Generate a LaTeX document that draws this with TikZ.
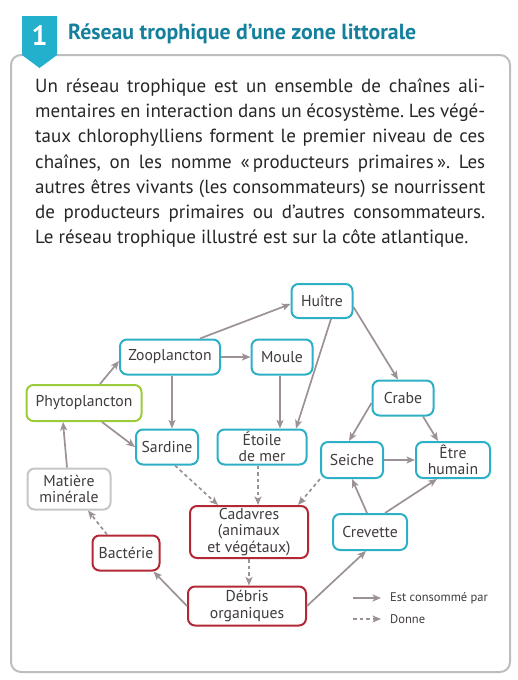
\documentclass[tikz,border=0pt]{standalone}
\usepackage{fontspec}
\setmainfont{PT Sans}
\usetikzlibrary{arrows.meta}
\definecolor{bleu}{HTML}{2DB0C6}
\definecolor{vert}{HTML}{9CCB3C}
\definecolor{grisnoeud}{HTML}{C6C6C6}
\definecolor{rouge}{HTML}{B32834}
\definecolor{fleche}{HTML}{9B9196}
\definecolor{titre}{HTML}{14809C}
\definecolor{onglet}{HTML}{23B0CC}
\definecolor{cadre}{HTML}{BDBDBD}
\definecolor{texte}{HTML}{403B3D}
\frenchspacing
\newcommand{\ligne}[1]{\makebox[450pt][s]{#1}}

\begin{document}
\begin{tikzpicture}[x=1pt, y=-1pt,
    noeud/.style={draw, rounded corners=7pt, line width=2pt, fill=white,
        text=texte, align=center, inner sep=2pt, minimum height=35pt,
        font=\fontsize{15.7}{16.5}\selectfont},
    conso/.style={noeud, draw=bleu},
    prod/.style={noeud, draw=vert},
    mineral/.style={noeud, draw=grisnoeud},
    decomp/.style={noeud, draw=rouge},
    mange/.style={draw=fleche, line width=1.7pt, -{Stealth[length=8.5pt, width=7pt, inset=2pt]}},
    donne/.style={mange, dash pattern=on 3.5pt off 3pt}]
    \useasboundingbox (0,0) rectangle (517,680);
    \draw[cadre, line width=2pt, rounded corners=10pt] (11,55) rectangle (510,672);
    \fill[onglet] (22,16) -- (57,16) -- (57,55) -- (39.5,68) -- (22,55) -- cycle;
    \node[text=white, font=\fontsize{28}{28}\bfseries\selectfont] (num) at (39.5,36) {1};
    \node[anchor=west, text=titre, font=\fontsize{21.8}{24}\bfseries\selectfont, inner sep=0pt]
        (titre) at (68,34) {Réseau trophique d’une zone littorale};
    \node[anchor=north west, align=left, inner sep=0pt, text=black!85,
        font=\fontsize{19}{25.3}\selectfont] (intro) at (35,78) {%
        \ligne{Un réseau trophique est un ensemble de chaînes ali-}\\
        \ligne{mentaires en interaction dans un écosystème. Les végé-}\\
        \ligne{taux chlorophylliens forment le premier niveau de ces}\\
        \ligne{chaînes, on les nomme «\,producteurs primaires\,». Les}\\
        \ligne{autres êtres vivants (les consommateurs) se nourrissent}\\
        \ligne{de producteurs primaires ou d’autres consommateurs.}\\
        Le réseau trophique illustré est sur la côte atlantique.};

    \node[conso, minimum width=61pt, minimum height=34pt] (huitre) at (322,301) {Huître};
    \node[conso, minimum width=100pt] (zoo) at (170,357) {Zooplancton};
    \node[conso, minimum width=61pt] (moule) at (282,357) {Moule};
    \node[prod, minimum width=115pt, minimum height=36pt] (phyto) at (84,403) {Phytoplancton};
    \node[conso, minimum width=61pt] (crabe) at (403,398) {Crabe};
    \node[conso, minimum width=62pt] (sardine) at (167,447) {Sardine};
    \node[conso, minimum width=89pt] (etoile) at (262,447) {Étoile\\de mer};
    \node[conso, minimum width=62pt, minimum height=36pt] (seiche) at (352,460) {Seiche};
    \node[conso, minimum width=74pt, minimum height=36pt] (humain) at (453,460) {Être\\humain};
    \node[mineral, minimum width=83pt, minimum height=41pt] (minerale) at (69,489) {Matière\\minérale};
    \node[decomp, minimum width=118pt, minimum height=52pt] (cadavres) at (249,532) {Cadavres\\(animaux\\et végétaux)};
    \node[conso, minimum width=74pt, minimum height=36pt] (crevette) at (370,532) {Crevette};
    \node[decomp, minimum width=67pt] (bacterie) at (126,553) {Bactérie};
    \node[decomp, minimum width=118pt, minimum height=39pt] (debris) at (247,606) {Débris\\organiques};

    \draw[mange] ([xshift=16pt]phyto.north) -- ([yshift=-4pt]zoo.west);
    \draw[mange] ([xshift=18pt]phyto.south) -- (sardine.west);
    \draw[mange] ([xshift=30pt]zoo.north) -- ([yshift=-3pt]huitre.west);
    \draw[mange] (zoo.east) -- (moule.west);
    \draw[mange] ([xshift=2pt]zoo.south) -- ([xshift=2pt]zoo.south |- sardine.north);
    \draw[mange] ([xshift=-2pt]moule.south) -- ([xshift=-2pt]moule.south |- etoile.north);
    \draw[mange] ([xshift=9pt]huitre.south) -- ([xshift=34pt]etoile.north);
    \draw[mange] ([yshift=-6pt]huitre.east) -- ([xshift=-5pt]crabe.north);
    \draw[mange] ([yshift=-5pt]crabe.west) -- ([xshift=-3pt]seiche.north);
    \draw[mange] ([xshift=20pt]crabe.south) -- ([xshift=-15pt]humain.north);
    \draw[mange] (seiche.east) -- (humain.west);
    \draw[mange] ([xshift=-3pt]crevette.north) -- (seiche.south);
    \draw[mange] ([xshift=15pt]crevette.north) -- ([xshift=-16pt]humain.south);
    \draw[mange] (debris.east) -- ([xshift=-4pt]crevette.south);
    \draw[mange] (debris.west) -- ([xshift=-7pt]bacterie.south east);
    \draw[mange] ([xshift=-2pt]minerale.north) -- ([xshift=-21pt]phyto.south);

    \draw[donne] ([xshift=8pt]sardine.south) -- ([xshift=-31pt]cadavres.north);
    \draw[donne] ([xshift=-4pt]etoile.south) -- ([xshift=-4pt]etoile.south |- cadavres.north);
    \draw[donne] (seiche.south west) -- ([xshift=-11pt]cadavres.north east);
    \draw[donne] (cadavres.south) -- (cadavres.south |- debris.north);
    \draw[donne] ([xshift=-19pt]bacterie.north) -- ([xshift=19pt]minerale.south);

    \node[anchor=west, text=texte, font=\fontsize{12.5}{14}\selectfont, inner sep=0pt] (leg1) at (390,598) {Est consommé par};
    \node[anchor=west, text=texte, font=\fontsize{12.5}{14}\selectfont, inner sep=0pt] (leg2) at (390,619) {Donne};
    \coordinate (l1a) at (353,598);
    \coordinate (l2a) at (353,619);
    \draw[mange, line width=1.3pt] (l1a) -- ([xshift=-9pt]leg1.west);
    \draw[donne, line width=1.3pt] (l2a) -- ([xshift=-9pt]leg2.west);
\end{tikzpicture}
\end{document}
